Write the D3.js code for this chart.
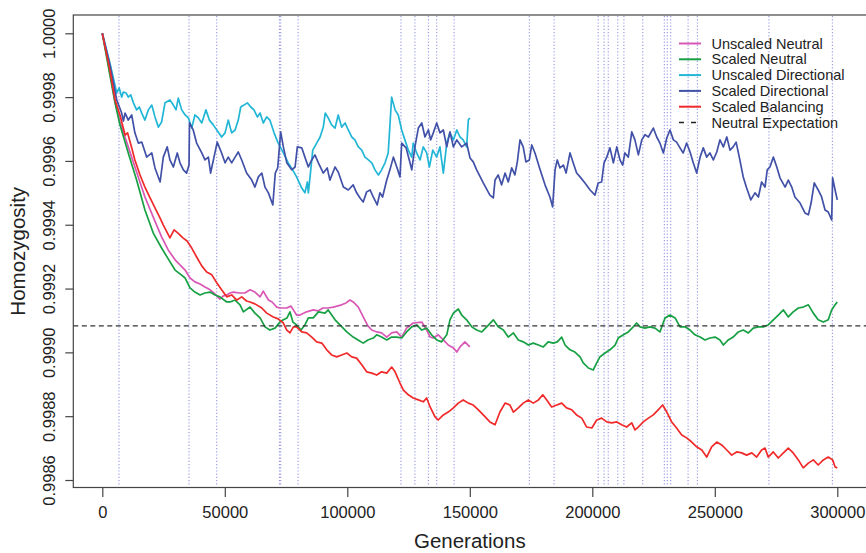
<!DOCTYPE html>
<html><head><meta charset="utf-8">
<script src="https://cdn.jsdelivr.net/npm/d3@7"></script>
<style>
body{margin:0;background:#fff}
svg{display:block}
text{font-family:"Liberation Sans",Arial,Helvetica,sans-serif;fill:#222}
</style>
</head><body>
<svg id="chart" width="866" height="553"></svg>
<script>
// ---------------- data ----------------
const xTicks = [0, 50000, 100000, 150000, 200000, 250000, 300000];
const yTicks = [0.9986, 0.9988, 0.9990, 0.9992, 0.9994, 0.9996, 0.9998, 1.0000];
const seriesNames = ["Unscaled Neutral", "Scaled Neutral", "Unscaled Directional", "Scaled Directional", "Scaled Balancing", "Neutral Expectation"];
const neutralExpectation = 0.999083;
const sweepGenerations = [6800, 35400, 46700, 72300, 72800, 79900, 121900, 127600, 133100, 136500, 143600, 174300, 184400, 202400, 204800, 206500, 210400, 212900, 220600, 229400, 230600, 232000, 239100, 242900, 272100, 298000];

const unscaledNeutral = [[0,1.0],[3100,0.999879],[5200,0.999785],[7200,0.999722],[10600,0.999644],[14000,0.999565],[17400,0.999487],[20800,0.999424],[24200,0.999362],[26900,0.999321],[29700,0.999290],[31700,0.999274],[33800,0.999258],[35800,0.999233],[37800,0.999221],[39900,0.999214],[41900,0.999205],[44000,0.999196],[46000,0.999183],[48000,0.999167],[49400,0.999177],[50800,0.999180],[52100,0.999186],[53500,0.999189],[56200,0.999186],[58200,0.999186],[60300,0.999196],[62300,0.999189],[64400,0.999174],[65700,0.999192],[67800,0.999164],[69300,0.999158],[71200,0.999142],[72500,0.999139],[75300,0.999139],[77000,0.999145],[79300,0.999117],[80700,0.999117],[83400,0.999127],[86100,0.999133],[88000,0.999130],[90100,0.999139],[92100,0.999139],[94300,0.999142],[97700,0.999149],[99500,0.999155],[101100,0.999164],[102400,0.999158],[104500,0.999142],[106500,0.999111],[108400,0.999083],[110000,0.999070],[112000,0.999064],[114000,0.999061],[116100,0.999048],[118100,0.999061],[120200,0.999064],[122200,0.999048],[124200,0.999076],[126900,0.999092],[130400,0.999095],[132400,0.999070],[133800,0.999048],[135100,0.999045],[137100,0.999055],[139200,0.999039],[141200,0.999023],[143300,0.999014],[144700,0.999001],[146000,0.999017],[148000,0.999033],[150000,0.999017]];

const scaledNeutral = [[0,1.0],[3100,0.999869],[5200,0.999782],[7200,0.999713],[10600,0.999625],[14000,0.999540],[17400,0.999446],[20800,0.999374],[24200,0.999327],[26900,0.999293],[29700,0.999258],[31700,0.999246],[33800,0.999233],[35800,0.999202],[37800,0.999189],[39900,0.999180],[41900,0.999186],[44000,0.999189],[46000,0.999180],[48000,0.999174],[50800,0.999158],[52100,0.999158],[54200,0.999164],[56200,0.999149],[57600,0.999127],[60300,0.999142],[62300,0.999123],[64400,0.999108],[66400,0.999080],[68400,0.999070],[70500,0.999076],[72500,0.999095],[73900,0.999102],[75400,0.999108],[76600,0.999127],[77800,0.999095],[79300,0.999086],[81100,0.999070],[82700,0.999086],[84100,0.999108],[86100,0.999108],[88200,0.999127],[90900,0.999123],[92200,0.999133],[95000,0.999102],[97000,0.999086],[99800,0.999064],[102400,0.999048],[104400,0.999039],[106500,0.999029],[108400,0.999039],[110600,0.999045],[112000,0.999055],[114000,0.999048],[116100,0.999039],[118100,0.999048],[120200,0.999048],[122200,0.999045],[124200,0.999064],[126300,0.999080],[128300,0.999086],[130400,0.999070],[132400,0.999076],[134400,0.999055],[136500,0.999039],[138500,0.999033],[140600,0.999055],[141900,0.999102],[143300,0.999123],[145300,0.999136],[146700,0.999117],[148700,0.999102],[150800,0.999080],[152800,0.999070],[154900,0.999064],[156900,0.999080],[159600,0.999102],[161600,0.999080],[163700,0.999070],[165700,0.999048],[167800,0.999061],[169800,0.999039],[171800,0.999033],[173900,0.999023],[175900,0.999029],[178000,0.999023],[180000,0.999017],[182000,0.999033],[184100,0.999029],[185700,0.999033],[187500,0.999048],[188900,0.999023],[190900,0.999008],[192900,0.999001],[195000,0.998986],[196300,0.998967],[198400,0.998951],[200400,0.998945],[201800,0.998967],[203100,0.998986],[205200,0.998998],[207200,0.999008],[209300,0.999023],[210600,0.999045],[212700,0.999055],[214700,0.999064],[216700,0.999080],[218100,0.999092],[219500,0.999080],[221500,0.999076],[223500,0.999080],[225600,0.999076],[227600,0.999064],[229700,0.999108],[231700,0.999117],[233800,0.999108],[235800,0.999080],[237800,0.999080],[239900,0.999070],[241900,0.999055],[244000,0.999048],[246000,0.999039],[248000,0.999045],[250100,0.999048],[252100,0.999039],[253500,0.999023],[255500,0.999039],[257500,0.999048],[259600,0.999064],[261600,0.999070],[263700,0.999061],[265700,0.999076],[267800,0.999080],[269800,0.999080],[271800,0.999086],[273900,0.999102],[275900,0.999117],[278000,0.999133],[280000,0.999111],[282000,0.999127],[284100,0.999139],[286100,0.999142],[288200,0.999149],[290200,0.999123],[292200,0.999102],[294300,0.999095],[296300,0.999102],[297700,0.999133],[299100,0.999149],[300000,0.999158]];

const unscaledDirectional = [[0,1.0],[3100,0.999907],[5900,0.999813],[6900,0.999829],[7900,0.999800],[8600,0.999816],[9700,0.999813],[10600,0.999800],[11600,0.999807],[12700,0.999782],[14000,0.999760],[15100,0.999769],[16100,0.999750],[17400,0.999728],[18800,0.999760],[20200,0.999775],[21500,0.999738],[22900,0.999706],[24200,0.999722],[25600,0.999782],[27600,0.999791],[29000,0.999775],[30100,0.999760],[31000,0.999797],[32400,0.999760],[33800,0.999744],[35100,0.999735],[36500,0.999703],[37800,0.999744],[39200,0.999735],[40600,0.999719],[42300,0.999760],[43700,0.999728],[45300,0.999713],[47300,0.999691],[48700,0.999675],[50100,0.999688],[51400,0.999728],[52800,0.999688],[54200,0.999697],[55500,0.999728],[56500,0.999769],[57800,0.999775],[59200,0.999782],[60600,0.999769],[61900,0.999760],[63300,0.999738],[64400,0.999750],[65700,0.999719],[67100,0.999738],[68400,0.999728],[70100,0.999688],[71800,0.999656],[73900,0.999625],[75900,0.999594],[77700,0.999572],[79300,0.999550],[81400,0.999515],[82700,0.999500],[83700,0.999534],[84100,0.999500],[84800,0.999550],[85900,0.999634],[87500,0.999656],[88900,0.999675],[90200,0.999706],[91000,0.999750],[92200,0.999735],[93600,0.999713],[95000,0.999703],[96300,0.999744],[97700,0.999706],[99100,0.999719],[100400,0.999697],[101800,0.999675],[103100,0.999666],[104500,0.999644],[105900,0.999634],[107200,0.999612],[108600,0.999603],[110000,0.999594],[111300,0.999572],[112700,0.999556],[114000,0.999572],[115400,0.999594],[116700,0.999625],[118100,0.999800],[119500,0.999760],[120800,0.999744],[122200,0.999697],[123500,0.999666],[124900,0.999634],[126300,0.999612],[126900,0.999656],[128300,0.999625],[129700,0.999603],[131000,0.999644],[132400,0.999625],[133500,0.999581],[134900,0.999634],[136500,0.999612],[137800,0.999644],[139200,0.999562],[140600,0.999656],[141900,0.999688],[143300,0.999666],[144700,0.999697],[146000,0.999675],[147300,0.999666],[148700,0.999644],[149400,0.999728],[150000,0.999735]];

const scaledDirectional = [[0,1.0],[3100,0.999901],[5900,0.999791],[7900,0.999750],[8600,0.999725],[9300,0.999750],[10600,0.999728],[12000,0.999744],[13300,0.999688],[14700,0.999656],[16100,0.999659],[18100,0.999612],[20200,0.999625],[21500,0.999578],[23600,0.999534],[24900,0.999612],[26500,0.999644],[27600,0.999603],[29000,0.999581],[30600,0.999625],[31700,0.999594],[33100,0.999572],[34400,0.999562],[35400,0.999587],[35600,0.999719],[37100,0.999697],[38500,0.999656],[40600,0.999625],[41900,0.999603],[43300,0.999612],[44200,0.999562],[45600,0.999612],[46900,0.999659],[48700,0.999625],[50100,0.999594],[51400,0.999612],[52800,0.999594],[54200,0.999612],[55500,0.999628],[56900,0.999603],[58900,0.999562],[61000,0.999540],[62300,0.999518],[63700,0.999550],[65100,0.999562],[66400,0.999518],[67800,0.999500],[69600,0.999462],[70600,0.999562],[71600,0.999578],[72800,0.999691],[73900,0.999644],[75300,0.999594],[77300,0.999572],[78700,0.999581],[79600,0.999644],[81400,0.999641],[82700,0.999612],[84100,0.999581],[85500,0.999603],[86800,0.999619],[88200,0.999594],[90200,0.999562],[91800,0.999578],[92900,0.999540],[95000,0.999581],[96300,0.999565],[98400,0.999518],[100400,0.999509],[102400,0.999525],[103800,0.999500],[105200,0.999484],[106500,0.999471],[107900,0.999503],[109300,0.999509],[110600,0.999487],[112200,0.999462],[113300,0.999500],[114400,0.999487],[116100,0.999540],[117400,0.999572],[118800,0.999612],[120200,0.999581],[121500,0.999550],[122200,0.999656],[124000,0.999641],[125300,0.999603],[126300,0.999572],[127600,0.999644],[129000,0.999703],[130400,0.999719],[131700,0.999675],[133100,0.999697],[134000,0.999666],[135100,0.999688],[136500,0.999719],[137800,0.999688],[139200,0.999697],[140600,0.999644],[141900,0.999691],[143300,0.999644],[144700,0.999666],[146700,0.999644],[148700,0.999656],[150100,0.999609],[151400,0.999597],[152800,0.999572],[155500,0.999531],[158200,0.999493],[159600,0.999484],[160300,0.999540],[161600,0.999556],[163000,0.999525],[164400,0.999562],[165700,0.999534],[167100,0.999578],[168400,0.999556],[169400,0.999597],[170500,0.999666],[171800,0.999644],[172900,0.999597],[174300,0.999603],[175300,0.999650],[176600,0.999625],[178700,0.999572],[180700,0.999525],[182700,0.999487],[183800,0.999456],[184800,0.999572],[185700,0.999603],[186800,0.999578],[188200,0.999587],[189300,0.999562],[190900,0.999625],[192200,0.999594],[193600,0.999562],[195000,0.999550],[197000,0.999531],[199100,0.999509],[201100,0.999493],[202400,0.999531],[203800,0.999534],[204800,0.999594],[205900,0.999612],[207200,0.999641],[208600,0.999594],[210000,0.999644],[211300,0.999603],[212400,0.999587],[213300,0.999625],[214700,0.999612],[216100,0.999691],[217400,0.999666],[218800,0.999619],[220200,0.999666],[221500,0.999682],[222900,0.999675],[224900,0.999703],[226300,0.999675],[227600,0.999656],[229000,0.999625],[230400,0.999672],[231700,0.999697],[233100,0.999666],[234400,0.999659],[235800,0.999641],[237100,0.999625],[238500,0.999656],[239900,0.999628],[241200,0.999594],[242600,0.999562],[244000,0.999612],[245300,0.999641],[246700,0.999612],[248000,0.999625],[249400,0.999603],[250800,0.999628],[252100,0.999666],[253500,0.999644],[254900,0.999675],[256200,0.999634],[257500,0.999644],[258700,0.999659],[260000,0.999612],[261600,0.999550],[263000,0.999515],[264700,0.999478],[266400,0.999500],[267800,0.999487],[269100,0.999534],[270500,0.999518],[271400,0.999572],[272500,0.999581],[273900,0.999612],[275300,0.999581],[276600,0.999547],[278700,0.999518],[280000,0.999540],[281400,0.999518],[282700,0.999487],[284800,0.999468],[286800,0.999437],[288200,0.999431],[289300,0.999468],[290600,0.999531],[292200,0.999509],[293600,0.999487],[295000,0.999446],[296300,0.999440],[297700,0.999415],[298100,0.999547],[299100,0.999509],[300000,0.999478]];

const scaledBalancing = [[0,1.0],[3100,0.999885],[5200,0.999791],[7200,0.999744],[9300,0.999681],[10300,0.999688],[12000,0.999641],[13300,0.999603],[15400,0.999556],[17400,0.999518],[19500,0.999484],[21500,0.999453],[23600,0.999421],[24900,0.999399],[26400,0.999377],[27600,0.999359],[29300,0.999384],[30900,0.999374],[32900,0.999359],[34600,0.999349],[36500,0.999327],[38500,0.999299],[40600,0.999271],[42600,0.999252],[44700,0.999243],[46700,0.999218],[48700,0.999196],[50800,0.999174],[52800,0.999180],[54900,0.999164],[56900,0.999174],[58900,0.999161],[60300,0.999158],[62300,0.999152],[65100,0.999139],[67100,0.999123],[69800,0.999111],[71800,0.999105],[73900,0.999092],[75300,0.999070],[76600,0.999061],[78000,0.999080],[79300,0.999080],[81400,0.999064],[83400,0.999061],[85500,0.999048],[87500,0.999033],[89600,0.999029],[91600,0.999008],[93600,0.998992],[95700,0.998986],[97700,0.998992],[99800,0.998998],[101800,0.998986],[103800,0.998982],[105900,0.998961],[107900,0.998939],[110000,0.998935],[112000,0.998929],[114000,0.998939],[116100,0.998935],[118100,0.998954],[119500,0.998939],[121500,0.998904],[122900,0.998882],[124900,0.998867],[126900,0.998857],[129000,0.998851],[131000,0.998845],[132400,0.998857],[133800,0.998829],[135800,0.998798],[137100,0.998788],[139200,0.998804],[141200,0.998813],[143300,0.998826],[145300,0.998841],[147300,0.998851],[149400,0.998841],[151400,0.998835],[153500,0.998820],[155500,0.998804],[158200,0.998782],[160300,0.998773],[162300,0.998813],[164400,0.998841],[166400,0.998835],[167800,0.998813],[169800,0.998826],[171800,0.998841],[173900,0.998851],[175900,0.998841],[178000,0.998851],[179800,0.998867],[181400,0.998851],[183400,0.998829],[185500,0.998835],[187500,0.998841],[189500,0.998826],[191600,0.998820],[193600,0.998804],[195700,0.998794],[197700,0.998766],[199800,0.998763],[201800,0.998788],[203800,0.998794],[205900,0.998782],[207900,0.998779],[210000,0.998782],[212000,0.998773],[214000,0.998766],[216100,0.998779],[217400,0.998757],[218800,0.998766],[220800,0.998782],[222900,0.998794],[224900,0.998804],[226900,0.998820],[228700,0.998835],[230400,0.998813],[232400,0.998782],[234400,0.998763],[236500,0.998741],[238500,0.998732],[240600,0.998719],[242600,0.998704],[244700,0.998694],[246700,0.998672],[248700,0.998704],[250800,0.998719],[252800,0.998710],[254900,0.998694],[256900,0.998678],[258900,0.998688],[261000,0.998685],[263000,0.998678],[265100,0.998685],[267100,0.998672],[269100,0.998694],[270500,0.998700],[271800,0.998672],[273900,0.998688],[275900,0.998669],[278000,0.998685],[280000,0.998700],[282000,0.998685],[284100,0.998663],[286100,0.998638],[288200,0.998653],[290200,0.998663],[292200,0.998647],[294300,0.998663],[296300,0.998672],[298100,0.998663],[299100,0.998641],[300000,0.998638]];

const seriesColors = ["#d957b5", "#17a043", "#22b6d6", "#4251a8", "#f02a2a"];

// ---------------- layout ----------------
const svg = d3.select("#chart");
const box = {left: 73.3, right: 867.5, top: 15, bottom: 487.5};
const x = d3.scaleLinear().domain([0, 300000]).range([102.3, 837.3]);
const y = d3.scaleLinear().domain([0.9986, 1.0]).range([480, 33.3]);
const fontTick = 16.5, fontTitle = 20.5, fontLegend = 14.5;

// sweep lines
svg.append("g").selectAll("line").data(sweepGenerations).join("line")
  .attr("x1", d => x(d)).attr("x2", d => x(d))
  .attr("y1", box.top + 1).attr("y2", box.bottom - 1)
  .attr("stroke", "#9595e6").attr("stroke-width", 1.1)
  .attr("stroke-dasharray", "1.2,2");

// series
const line = d3.line().x(d => x(d[0])).y(d => y(d[1]));
const allSeries = [unscaledNeutral, scaledNeutral, unscaledDirectional, scaledDirectional, scaledBalancing];
svg.append("g").selectAll("path").data(allSeries).join("path")
  .attr("d", line)
  .attr("fill", "none")
  .attr("stroke", (d, i) => seriesColors[i])
  .attr("stroke-width", 1.7)
  .attr("stroke-linejoin", "round");

// neutral expectation
svg.append("line")
  .attr("x1", box.left).attr("x2", box.right)
  .attr("y1", y(neutralExpectation)).attr("y2", y(neutralExpectation))
  .attr("stroke", "#333").attr("stroke-width", 1.4)
  .attr("stroke-dasharray", "5,3.5");

// box
svg.append("rect")
  .attr("x", box.left).attr("y", box.top)
  .attr("width", box.right - box.left).attr("height", box.bottom - box.top)
  .attr("fill", "none").attr("stroke", "#444").attr("stroke-width", 1.2);

// x axis
const gx = svg.append("g").attr("transform", `translate(0,${box.bottom})`)
  .call(d3.axisBottom(x).tickValues(xTicks).tickSize(9.5).tickPadding(0).tickFormat(d3.format("d")));
gx.select(".domain").remove();
gx.selectAll(".tick line").attr("stroke", "#444").attr("stroke-width", 1.2);
gx.selectAll(".tick text").attr("y", 30).attr("dy", 0)
  .style("font-size", fontTick + "px").style("fill", "#222")
  .style("font-family", '"Liberation Sans",Arial,sans-serif');

// y axis
const gy = svg.append("g").attr("transform", `translate(${box.left},0)`)
  .call(d3.axisLeft(y).tickValues(yTicks).tickSize(8).tickFormat(d3.format(".4f")));
gy.select(".domain").remove();
gy.selectAll(".tick line").attr("stroke", "#444").attr("stroke-width", 1.2);
gy.selectAll(".tick text")
  .attr("x", 0).attr("y", 0).attr("dy", 0)
  .attr("text-anchor", "middle")
  .attr("transform", `translate(${55 - box.left},0) rotate(-90)`)
  .style("font-size", fontTick + "px").style("fill", "#222")
  .style("font-family", '"Liberation Sans",Arial,sans-serif');

// axis titles
svg.append("text").attr("x", (73.3 + 866.3) / 2).attr("y", 548)
  .attr("text-anchor", "middle").style("font-size", fontTitle + "px").text("Generations");
svg.append("text")
  .attr("transform", `translate(25,${(box.top + box.bottom) / 2}) rotate(-90)`)
  .attr("text-anchor", "middle").style("font-size", fontTitle + "px").text("Homozygosity");

// legend
const lg = svg.append("g");
const legY0 = 43.5, legStep = 15.8, legX0 = 679, legX1 = 701, legTextX = 711.5;
seriesNames.forEach((name, i) => {
  const yy = legY0 + i * legStep;
  const isExp = i === 5;
  lg.append("line").attr("x1", legX0).attr("x2", legX1).attr("y1", yy).attr("y2", yy)
    .attr("stroke", isExp ? "#222" : seriesColors[i])
    .attr("stroke-width", isExp ? 1.5 : 2)
    .attr("stroke-dasharray", isExp ? "5,7" : null);
  lg.append("text").attr("x", legTextX).attr("y", yy + 5)
    .style("font-size", fontLegend + "px").text(name);
});
</script>
</body></html>
